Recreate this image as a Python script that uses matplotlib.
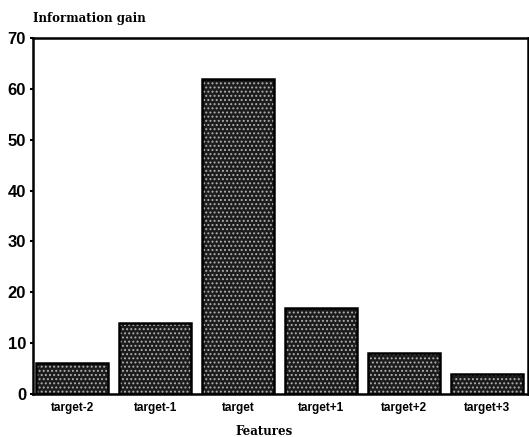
import matplotlib.pyplot as plt

# datos
features = ['target-2', 'target-1', 'target', 'target+1', 'target+2', 'target+3']
gain = [6, 14, 62, 17, 8, 4]
yticks = [0, 10, 20, 30, 40, 50, 60, 70]

plt.rcParams['hatch.linewidth'] = 0.9

fig = plt.figure(figsize=(5.29, 4.37), dpi=100)
ax = fig.add_axes([0.0624, 0.0984, 0.9356, 0.8146])

x = range(len(features))
# relleno punteado (trama clara sobre fondo oscuro)
ax.bar(x, gain, width=0.87, color='#1c1c1c', edgecolor='#b0b0b0', hatch='....', linewidth=0)
# contorno negro
ax.bar(x, gain, width=0.87, color='none', edgecolor='black', linewidth=1.8)

ax.set_xlim(-0.47, 5.49)
ax.set_ylim(0, 70)
ax.set_yticks(yticks)
ax.set_xticks(list(x))
ax.set_xticklabels(features, fontfamily='Liberation Sans', fontweight='bold', fontsize=8.5)
ax.set_yticklabels([str(t) for t in yticks], fontfamily='Liberation Sans', fontweight='bold', fontsize=12)
ax.tick_params(axis='x', length=0, pad=6)
ax.tick_params(axis='y', length=2, width=1.5, pad=3)

for s in ax.spines.values():
    s.set_linewidth(1.8)

fig.text(0.063, 0.958, 'Information gain', fontfamily='DejaVu Serif', fontweight='bold', fontsize=8.5, va='center', ha='left')
fig.text(0.50, 0.013, 'Features', fontfamily='DejaVu Serif', fontweight='bold', fontsize=8.5, va='center', ha='center')

fig.savefig('out.png', dpi=100)
